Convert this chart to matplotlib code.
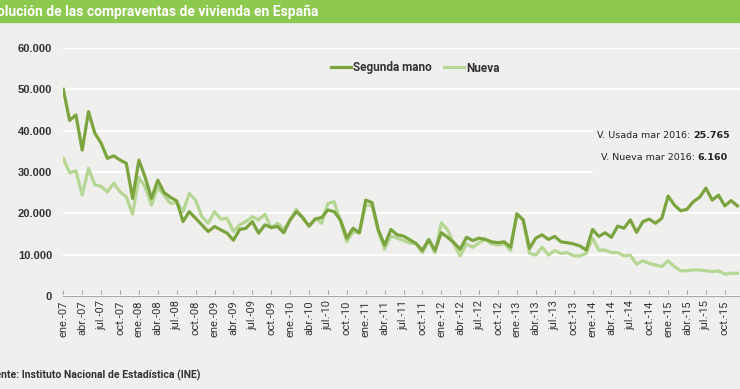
import matplotlib
matplotlib.use("Agg")
import matplotlib.pyplot as plt
from matplotlib.patches import Rectangle

# monthly values from ene.-07, in thousands
segunda = [50.0, 42.5, 43.8, 35.3, 44.6, 39.4, 37.0, 33.3, 33.9, 32.9, 32.1, 23.6,
           32.9, 28.7, 23.6, 28.0, 25.0, 23.9, 23.0, 18.0, 20.4, 18.8, 17.2, 15.6,
           16.8, 16.0, 15.2, 13.5, 16.1, 16.4, 18.0, 15.2, 17.2, 16.6, 16.8, 15.3,
           18.4, 20.4, 19.0, 16.9, 18.6, 19.0, 20.8, 20.4, 18.4, 14.0, 16.4, 15.3,
           23.2, 22.6, 16.0, 12.3, 16.1, 14.8, 14.5, 13.6, 12.7, 11.0, 13.7, 11.0,
           15.3, 14.2, 12.9, 11.3, 14.2, 13.4, 14.0, 13.7, 13.1, 12.9, 13.1, 11.8,
           19.8, 18.4, 11.5, 14.0, 14.8, 13.7, 14.4, 13.1, 12.9, 12.6, 12.1, 11.1,
           16.1, 14.4, 15.3, 14.2, 16.9, 16.4, 18.4, 15.4, 18.0, 18.6, 17.6, 18.8,
           24.2, 22.0, 20.6, 21.0, 22.8, 23.9, 26.1, 23.2, 24.4, 21.8, 23.1, 21.8]
nueva = [33.3, 29.8, 30.3, 24.4, 30.9, 26.9, 26.5, 25.2, 27.3, 25.2, 24.0, 19.8,
         28.7, 26.3, 22.0, 26.3, 24.4, 22.4, 22.6, 20.4, 24.8, 23.2, 19.2, 17.6,
         20.4, 18.6, 18.8, 15.6, 17.2, 18.0, 19.2, 18.4, 19.8, 16.4, 17.6, 16.1,
         18.4, 21.0, 18.8, 16.9, 18.8, 17.6, 22.4, 22.8, 18.0, 13.1, 15.6, 15.2,
         22.0, 21.8, 15.6, 11.3, 14.5, 14.0, 13.4, 12.8, 12.6, 10.5, 13.4, 10.5,
         17.7, 16.0, 12.6, 9.7, 12.6, 11.8, 12.9, 13.7, 12.6, 12.3, 12.6, 11.0,
         20.0, 18.4, 10.3, 9.9, 11.8, 9.9, 11.0, 10.3, 10.5, 9.7, 9.7, 10.3,
         14.0, 11.1, 11.1, 10.5, 10.5, 9.7, 9.9, 7.7, 8.5, 7.9, 7.5, 7.1,
         8.5, 7.1, 6.1, 6.1, 6.3, 6.3, 6.1, 5.9, 6.1, 5.3, 5.5, 5.5]
meses = ['ene.', 'abr.', 'jul.', 'oct.']
anios = ['07', '08', '09', '10', '11', '12', '13', '14', '15']
y_ticks = [0, 10000, 20000, 30000, 40000, 50000, 60000]
y_labels = ['0', '10.000', '20.000', '30.000', '40.000', '50.000', '60.000']

usada_txt = "V. Usada mar 2016: "
usada_val = "25.765"
nueva_txt = "V. Nueva mar 2016: "
nueva_val = "6.160"

bg = '#eff0ee'
c_seg = '#7ba43f'
c_nue = '#b6d693'
txt_c = '#333333'
cond = ['Roboto', 'DejaVu Sans']

W, H = 740, 389
fig = plt.figure(figsize=(W / 100, H / 100), dpi=100, facecolor=bg)

def fx(x):
    return x / W

def fy(y):
    return 1 - y / H

# title bar
fig.patches.append(Rectangle((0, fy(22)), 1, 22 / H, transform=fig.transFigure,
                             color='#8dc84f', zorder=0))
fig.text(fx(318), fy(11.5), "Evolución de las compraventas de vivienda en España",
         ha='right', va='center', color='white', fontsize=10,
         fontweight='bold', family=cond)

x0, px_month = 63.3, 6.3
ax = fig.add_axes([fx(x0), fy(296), (110 * px_month) / W, (296 - 48) / H])
ax.set_facecolor('none')

months = list(range(len(segunda)))
ax.plot(months, [v * 1000 for v in segunda], color=c_seg, lw=2.3,
        solid_joinstyle='round', label='Segunda mano', zorder=3)
ax.plot(months, [v * 1000 for v in nueva], color=c_nue, lw=2.3,
        solid_joinstyle='round', label='Nueva', zorder=2)

ax.set_yticks(y_ticks)
ax.set_yticklabels(y_labels)

xt = list(range(0, 3 * len(meses) * len(anios), 3))
xl = [meses[(i // 3) % 4] + '-' + anios[i // 12] for i in xt]
ax.set_xticks(xt)
ax.set_xticklabels(xl, rotation=90, family=cond, fontsize=8, color=txt_c)
ax.set_xlim(0, 110)
ax.set_ylim(0, 60000)

ax.tick_params(axis='y', length=0, pad=8, labelsize=8, labelcolor=txt_c)
ax.tick_params(axis='x', direction='in', length=4, color='#a8a8a8', pad=3)
for lab in ax.get_yticklabels():
    lab.set_family(['Liberation Sans', 'DejaVu Sans'])
    lab.set_fontweight('bold')

for s in ['left', 'right', 'top']:
    ax.spines[s].set_visible(False)
ax.spines['bottom'].set_color('#a8a8a8')
ax.set_axisbelow(True)
ax.yaxis.grid(True, color='white', lw=1.5)
ax.xaxis.grid(False)

leg = ax.legend(loc='center', bbox_to_anchor=(fx(415), fy(68)),
                bbox_transform=fig.transFigure, ncol=2, frameon=False,
                handlelength=1.7, handletextpad=0.2, columnspacing=1.0,
                prop={'family': cond, 'size': 8.5, 'weight': 'bold'})
for t in leg.get_texts():
    t.set_color(txt_c)

# box hiding gridlines behind the note
ax.add_patch(Rectangle((fx(593), fy(180)), 1, 62 / H, transform=fig.transFigure,
                       color=bg, zorder=1, clip_on=False))
b1 = fig.text(fx(730), fy(135), usada_val, ha='right', va='center',
              fontsize=6.8, fontweight='bold', color='#222222')
b2 = fig.text(fx(728), fy(157), nueva_val, ha='right', va='center',
              fontsize=6.8, fontweight='bold', color='#222222')
ax.annotate(usada_txt, xy=(0, 0.5), xycoords=b1, ha='right', va='center',
            fontsize=6.8, color='#222222', annotation_clip=False)
ax.annotate(nueva_txt, xy=(0, 0.5), xycoords=b2, ha='right', va='center',
            fontsize=6.8, color='#222222', annotation_clip=False)

fig.text(fx(200), fy(375), "Fuente: Instituto Nacional de Estadística (INE)",
         ha='right', va='center', color=txt_c, fontsize=7.6,
         fontweight='bold', family=cond)

fig.savefig('out.png', dpi=100, facecolor=bg)
